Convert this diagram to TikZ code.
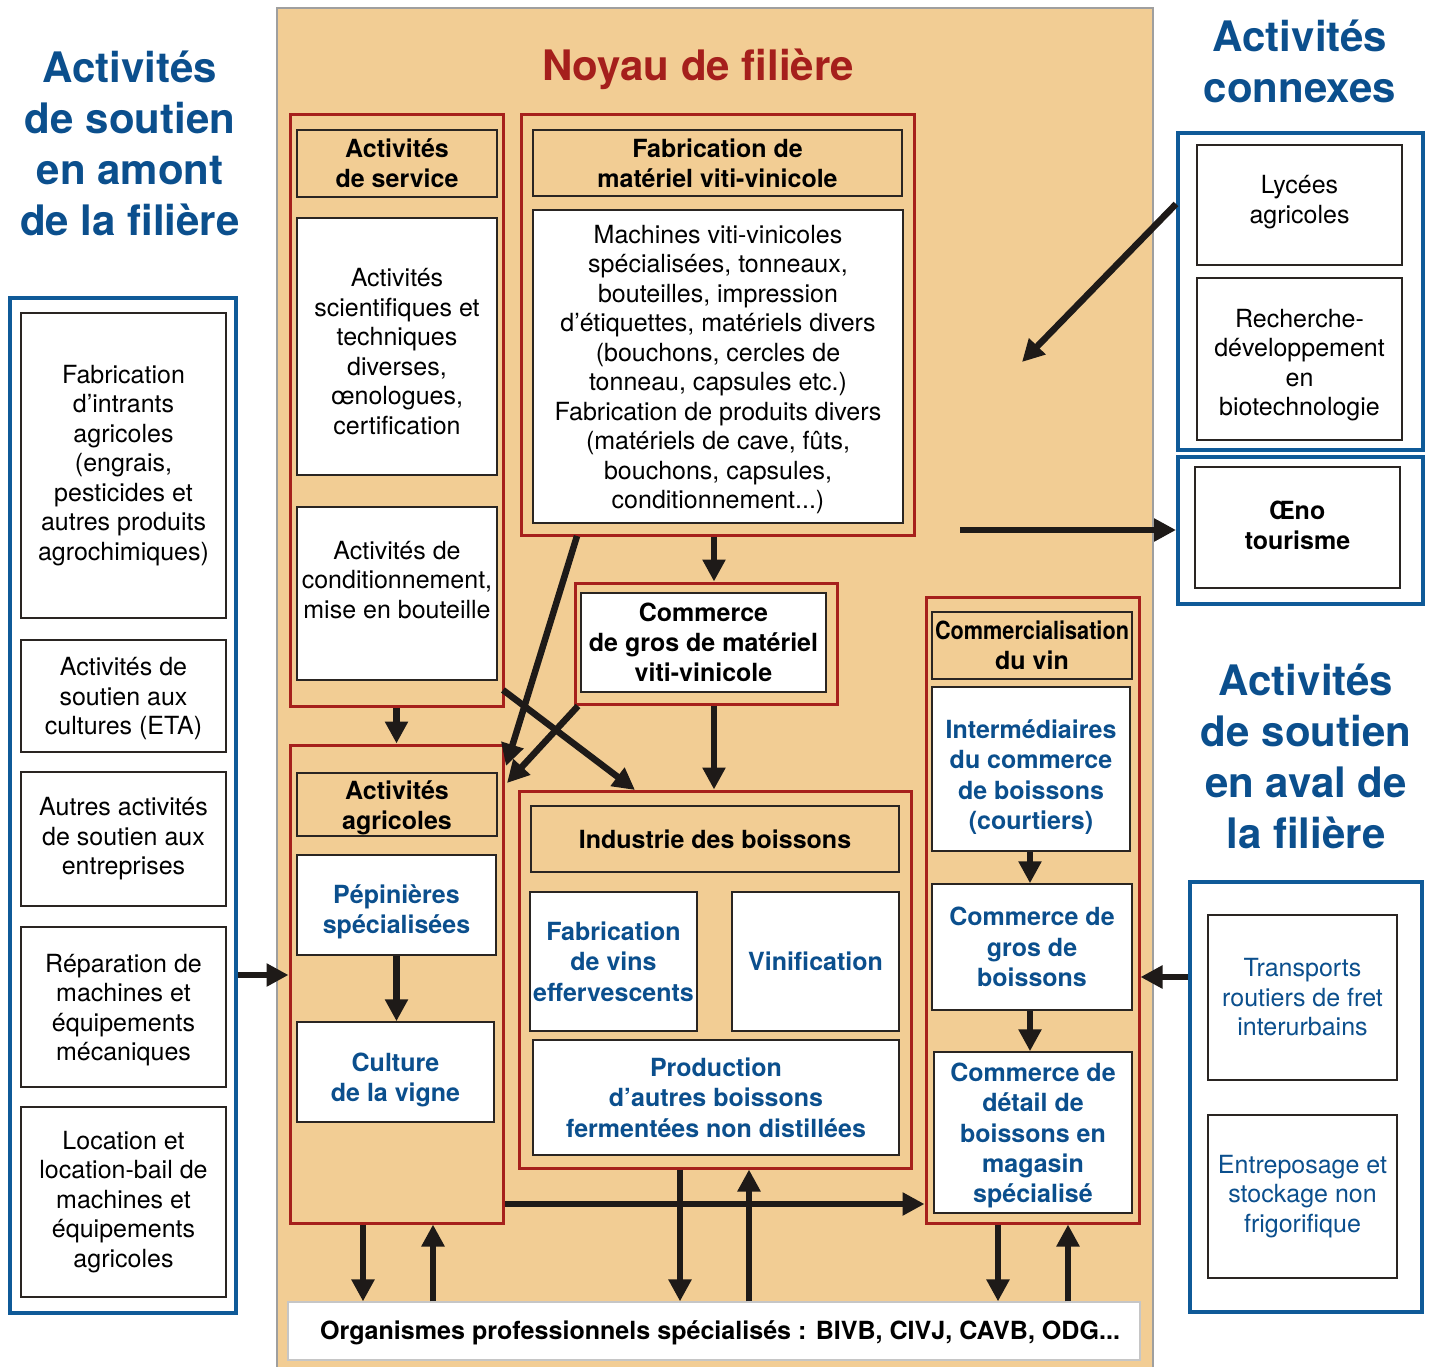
\documentclass[tikz,border=0pt]{standalone}
\usepackage{fontspec}
\setmainfont{TeX Gyre Heros}
\usepackage{graphicx}
\usetikzlibrary{arrows.meta}
\definecolor{beige}{HTML}{F2CD94}
\definecolor{redc}{HTML}{A6201C}
\definecolor{bluec}{HTML}{0F5A98}
\definecolor{bluetxt}{HTML}{0B4F8D}
\definecolor{titlered}{HTML}{A51F1C}
\definecolor{boxline}{HTML}{2A2522}
\definecolor{arrc}{HTML}{1E1A18}
\newcommand\myfs[2]{\fontsize{#1}{#2}\selectfont}
\newcommand\mybox[7]{%
  \pgfmathsetmacro\cxx{(#3+#5)/2}%
  \pgfmathsetmacro\cyy{(#4+#6)/2}%
  \pgfmathsetmacro\www{#5-#3}%
  \pgfmathsetmacro\hhh{#6-#4}%
  \node[#1, minimum width=\www pt, minimum height=\hhh pt] (#2) at (\cxx,\cyy) {#7};}
% box whose text is shifted down by #8
\newcommand\myboxs[8]{%
  \pgfmathsetmacro\cxx{(#3+#5)/2}%
  \pgfmathsetmacro\cyy{(#4+#6)/2}%
  \pgfmathsetmacro\cyt{(#4+#6)/2+#8}%
  \pgfmathsetmacro\www{#5-#3}%
  \pgfmathsetmacro\hhh{#6-#4}%
  \node[#1, minimum width=\www pt, minimum height=\hhh pt] (#2) at (\cxx,\cyy) {};
  \node[#1, draw=none, fill=none] (#2t) at (\cxx,\cyt) {#7};}
\tikzset{
  frame/.style={inner sep=0pt, align=center, anchor=center},
  corebox/.style={frame, draw=gray!75, line width=2pt, fill=beige},
  redbox/.style={frame, draw=redc, line width=3pt},
  bluebox/.style={frame, draw=bluec, line width=4pt, fill=white},
  wbox/.style={frame, draw=boxline, line width=1.5pt, fill=white, font=\myfs{25}{29.5}},
  hbox/.style={frame, draw=boxline, line width=1.5pt, fill=beige, font=\bfseries\myfs{25}{30}},
  kbox/.style={frame, draw=boxline, line width=1.5pt, fill=white, font=\bfseries\myfs{25}{30}},
  bbox/.style={frame, draw=boxline, line width=1.5pt, fill=white, font=\bfseries\myfs{25}{30.3}, text=bluetxt},
  btbox/.style={frame, draw=boxline, line width=1.5pt, fill=white, font=\myfs{25}{29.5}, text=bluetxt},
  orgbox/.style={frame, draw=gray!45, line width=1.2pt, fill=white},
  bigtitle/.style={frame, font=\bfseries\myfs{42}{51}, text=bluetxt},
  arr/.style={draw=arrc, line width=6.5pt, -{Triangle[length=22pt,width=22pt]}},
}
\begin{document}
\begin{tikzpicture}[x=1pt,y=-1pt]
\useasboundingbox (0,0) rectangle (1432,1367);
\fill[white] (0,0) rectangle (1432,1367);

% core
\mybox{corebox}{core}{277}{8}{1153}{1372}{}
\node[frame, font=\bfseries\myfs{42}{51}, text=titlered] (tNoyau) at (698,69) {Noyau de filière};

% titles
\node[bigtitle] (tAmont) at (130,143) {Activités\\de soutien\\en amont\\de la filière};
\node[bigtitle] (tConnexes) at (1300,61) {Activités\\connexes};
\node[bigtitle] (tAval) at (1306,756) {Activités\\de soutien\\en aval de\\la filière};

% left upstream
\mybox{bluebox}{amontBox}{10}{298}{236}{1313}{}
\mybox{wbox}{i1}{21}{313}{226}{618}{Fabrication\\d’intrants\\agricoles\\(engrais,\\pesticides et\\autres produits\\agrochimiques)}
\myboxs{wbox}{i2}{21}{640}{226}{752}{Activités de\\soutien aux\\cultures (ETA)}{3}
\mybox{wbox}{i3}{21}{772}{226}{906}{Autres activités\\de soutien aux\\entreprises}
\myboxs{wbox}{i4}{21}{927}{226}{1087}{Réparation de\\machines et\\équipements\\mécaniques}{3}
\mybox{wbox}{i5}{21}{1107}{226}{1297}{Location et\\location-bail de\\machines et\\équipements\\agricoles}

% service
\mybox{redbox}{rServ}{290}{115}{503}{706}{}
\mybox{hbox}{hServ}{297}{130}{497}{197}{Activités\\de service}
\myboxs{wbox}{wSci}{297}{218}{497}{475}{Activités\\scientifiques et\\techniques\\diverses,\\œnologues,\\certification}{5}
\mybox{wbox}{wCond}{297}{507}{497}{680}{}
\node[frame, font=\myfs{25}{29.5}] (wCondT) at (397,580) {Activités de\\conditionnement,\\mise en bouteille};

% agricoles
\mybox{redbox}{rAgr}{290}{745}{503}{1223}{}
\myboxs{hbox}{hAgr}{297}{773}{497}{836}{Activités\\agricoles}{3}
\myboxs{bbox}{wPep}{297}{855}{496}{955}{Pépinières\\spécialisées}{7}
\myboxs{bbox}{wCult}{297}{1022}{494}{1122}{Culture\\de la vigne}{8}

% fabrication materiel
\mybox{redbox}{rFab}{521}{115}{914}{535}{}
\mybox{hbox}{hFab}{533}{130}{902}{196}{Fabrication de\\matériel viti-vinicole}
\myboxs{wbox}{wFab}{533}{210}{903}{523}{Machines viti-vinicoles\\spécialisées, tonneaux,\\bouteilles, impression\\d’étiquettes, matériels divers\\(bouchons, cercles de\\tonneau, capsules etc.)\\Fabrication de produits divers\\(matériels de cave, fûts,\\bouchons, capsules,\\conditionnement...)}{3}

% commerce gros materiel
\mybox{redbox}{rCgm}{575}{583}{837}{704}{}
\mybox{kbox}{wCgm}{581}{593}{826}{692}{Commerce\\de gros de matériel\\viti-vinicole}

% industrie
\mybox{redbox}{rInd}{519}{791}{911}{1168}{}
\mybox{hbox}{hInd}{531}{806}{899}{872}{Industrie des boissons}
\mybox{bbox}{wEff}{530}{892}{697}{1031}{Fabrication\\de vins\\effervescents}
\mybox{bbox}{wVin}{732}{892}{899}{1031}{Vinification}
\mybox{bbox}{wProd}{533}{1040}{899}{1155}{Production\\d’autres boissons\\fermentées non distillées}

% commercialisation
\mybox{redbox}{rCom}{926}{597}{1139}{1223}{}
\mybox{hbox}{hCom}{932}{612}{1132}{679}{\resizebox{194pt}{\height}{Commercialisation}\\du vin}
\myboxs{bbox}{wInt}{932}{687}{1130}{851}{Intermédiaires\\du commerce\\de boissons\\(courtiers)}{8}
\mybox{bbox}{wCgb}{932}{884}{1132}{1010}{Commerce de\\gros de\\boissons}
\myboxs{bbox}{wDet}{934}{1052}{1132}{1213}{Commerce de\\détail de\\boissons en\\magasin\\spécialisé}{3}

% right
\mybox{bluebox}{conBox}{1178}{133}{1423}{450}{}
\myboxs{wbox}{wLyc}{1197}{145}{1402}{265}{Lycées\\agricoles}{-3}
\myboxs{wbox}{wRech}{1197}{278}{1402}{440}{Recherche-\\développement\\en\\biotechnologie}{6}
\mybox{bluebox}{oenoBox}{1178}{457}{1423}{604}{}
\myboxs{kbox}{wOeno}{1195}{467}{1400}{588}{Œno\\tourisme}{-2}
\mybox{bluebox}{avalBox}{1190}{882}{1422}{1312}{}
\mybox{btbox}{wTrans}{1208}{915}{1397}{1080}{Transports\\routiers de fret\\interurbains}
\mybox{btbox}{wEntr}{1208}{1115}{1397}{1278}{Entreposage et\\stockage non\\frigorifique}

% organismes
\mybox{orgbox}{org}{288}{1302}{1140}{1360}{}
\node[frame, font=\bfseries\myfs{25}{30}] (orgT) at (720,1333) {\resizebox{800pt}{\height}{Organismes professionnels spécialisés : BIVB, CIVJ, CAVB, ODG...}};

% helper coordinates
\coordinate (yA) at (0,975);
\coordinate (xA) at (714,0);
\coordinate (xB) at (1030,0);
\coordinate (y204) at (0,204);
\coordinate (y977) at (0,977);
\coordinate (y1204) at (0,1204);
\coordinate (x363) at (363,0);
\coordinate (x433) at (433,0);
\coordinate (x680) at (680,0);
\coordinate (x749) at (749,0);
\coordinate (x998) at (998,0);
\coordinate (x1068) at (1068,0);
\coordinate (d1s) at (577,536);
\coordinate (d1e) at (506,766);
\coordinate (d2s) at (578,706);
\coordinate (d2e) at (507,783);
\coordinate (d3s) at (503,690);
\coordinate (d3e) at (635,790);
\coordinate (lyE) at (1022,362);
\coordinate (oenoS) at (960,530);

% arrows
\draw[arr] (amontBox.east |- yA) -- (rAgr.west |- yA);
\draw[arr] (rServ.south) -- (rAgr.north);
\draw[arr] (wPep.south) -- (wCult.north -| wPep.south);
\draw[arr] (rFab.south -| xA) -- (rCgm.north -| xA);
\draw[arr] (rCgm.south -| xA) -- (rInd.north -| xA);
\draw[arr] (wInt.south -| xB) -- (wCgb.north -| xB);
\draw[arr] (wCgb.south -| xB) -- (wDet.north -| xB);
\draw[arr] (d1s) -- (d1e);
\draw[arr] (d2s) -- (d2e);
\draw[arr] (d3s) -- (d3e);
\draw[arr] (conBox.west |- y204) -- (lyE);
\draw[arr] (oenoS) -- (oenoBox.west |- oenoS);
\draw[arr] (avalBox.west |- y977) -- (rCom.east |- y977);
\draw[arr] (rAgr.east |- y1204) -- (rCom.west |- y1204);
\draw[arr] (rAgr.south -| x363) -- (org.north -| x363);
\draw[arr] (org.north -| x433) -- (rAgr.south -| x433);
\draw[arr] (rInd.south -| x680) -- (org.north -| x680);
\draw[arr] (org.north -| x749) -- (rInd.south -| x749);
\draw[arr] (rCom.south -| x998) -- (org.north -| x998);
\draw[arr] (org.north -| x1068) -- (rCom.south -| x1068);
\end{tikzpicture}
\end{document}
